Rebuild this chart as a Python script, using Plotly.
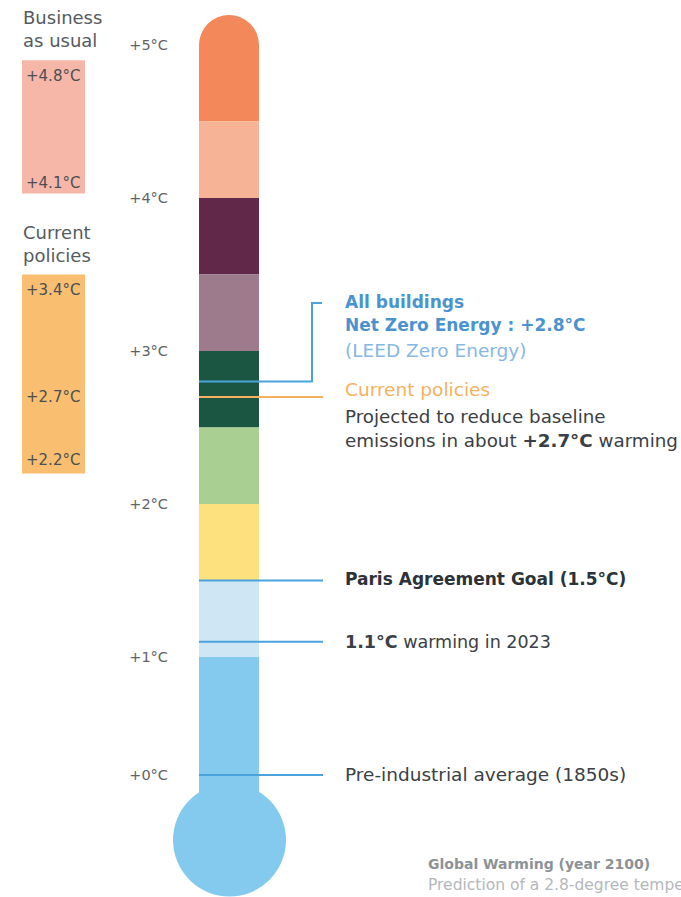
import plotly.graph_objects as go

# ---------------------------------------------------------------------------
# Data (°C of warming above pre-industrial)
# ---------------------------------------------------------------------------
band_bottom = [4.5, 4.0, 3.5, 3.0, 2.5, 2.0, 1.5, 1.0]
band_top = [5.0, 4.5, 4.0, 3.5, 3.0, 2.5, 2.0, 1.5]
band_colors = ["#F3895A", "#F7B396", "#61284A", "#9E7A8D",
               "#1A5641", "#AACF92", "#FDE17F", "#CFE7F5"]
base_band = [0.0, 1.0]          # bottom of the stem, down into the bulb
base_color = "#84CAEE"

upper_ticks = [2, 3, 4, 5]
lower_ticks = [0, 1]

net_zero = 2.8
current_policies = 2.7
paris_goal = 1.5
warming_2023 = 1.1
pre_industrial = 0.0

bau_labels = [4.8, 4.1]
bau_span = [4.03, 4.9]
cp_labels = [3.4, 2.7, 2.2]
cp_span = [2.2, 3.5]

# ---------------------------------------------------------------------------
# Layout geometry (pixels)
# ---------------------------------------------------------------------------
W, H = 681, 897
ONE_PX = 657          # vertical pixel of +1°C
PX_UP = 153           # pixels per °C above +1°C
ZERO_PX = 775         # vertical pixel of +0°C
PX_LOW = ZERO_PX - ONE_PX   # pixels per °C between 0 and 1
STEM_X0, STEM_X1 = 199, 259
CAP_R = (STEM_X1 - STEM_X0) / 2
BULB_CX, BULB_R, BULB_DY = 229.5, 56.5, 65   # bulb centre 65 px below 0°C
LINE_X0, LINE_X1 = 199, 323
TEXT_X = 343

split = (H - ONE_PX) / H
upper_range = [1, 1 + ONE_PX / PX_UP]
lower_range = [-(H - ZERO_PX) / PX_LOW, 1]


def py(px):
    """paper y for a pixel row"""
    return 1 - px / H


FONT = "DejaVu Sans"
BLUE = "#4AA3DC"
ORANGE = "#F6B15E"
DARK = "#3A4045"

fig = go.Figure()

# ---------------------------------------------------------------------------
# Thermometer
# ---------------------------------------------------------------------------
shapes = []
for lo, hi, col in zip(band_bottom, band_top, band_colors):
    shapes.append(dict(type="rect", xref="x", yref="y", x0=STEM_X0, x1=STEM_X1,
                       y0=lo, y1=hi, fillcolor=col, line_width=0, layer="below"))
# rounded top cap
shapes.append(dict(type="circle", xref="x", yref="y", ysizemode="pixel",
                   yanchor=band_top[0], y0=-CAP_R, y1=CAP_R,
                   x0=STEM_X0, x1=STEM_X1, fillcolor=band_colors[0],
                   line_width=0, layer="below"))
# base of stem + bulb
shapes.append(dict(type="rect", xref="x", yref="y2", x0=STEM_X0, x1=STEM_X1,
                   y0=base_band[0] - BULB_DY / PX_LOW, y1=base_band[1],
                   fillcolor=base_color, line_width=0, layer="below"))
shapes.append(dict(type="circle", xref="x", yref="y2", ysizemode="pixel",
                   yanchor=base_band[0], y0=-BULB_DY - BULB_R, y1=-BULB_DY + BULB_R,
                   x0=BULB_CX - BULB_R, x1=BULB_CX + BULB_R,
                   fillcolor=base_color, line_width=0, layer="below"))

# scenario boxes on the left
shapes.append(dict(type="rect", xref="x", yref="y", x0=22, x1=85,
                   y0=bau_span[0], y1=bau_span[1], fillcolor="#F6B7A8",
                   line_width=0, layer="below"))
shapes.append(dict(type="rect", xref="x", yref="y", x0=22, x1=85,
                   y0=cp_span[0], y1=cp_span[1], fillcolor="#F9BE70",
                   line_width=0, layer="below"))

# ---------------------------------------------------------------------------
# Reference lines
# ---------------------------------------------------------------------------
bracket_top = 1 + (ONE_PX - 303) / PX_UP
fig.add_trace(go.Scatter(x=[LINE_X0, 312, 312, LINE_X1 - 1],
                         y=[net_zero, net_zero, bracket_top, bracket_top],
                         mode="lines", line=dict(color=BLUE, width=2),
                         xaxis="x", yaxis="y", hoverinfo="skip", showlegend=False))
for val, col in [(current_policies, ORANGE), (paris_goal, BLUE), (warming_2023, BLUE)]:
    fig.add_trace(go.Scatter(x=[LINE_X0, LINE_X1], y=[val, val], mode="lines",
                             line=dict(color=col, width=2), xaxis="x", yaxis="y",
                             hoverinfo="skip", showlegend=False))
fig.add_trace(go.Scatter(x=[LINE_X0, LINE_X1], y=[pre_industrial, pre_industrial],
                         mode="lines", line=dict(color=BLUE, width=2),
                         xaxis="x", yaxis="y2", hoverinfo="skip", showlegend=False))

# ---------------------------------------------------------------------------
# Text
# ---------------------------------------------------------------------------
ann = []


def note(text, x, y, size, color, yref="paper", xanchor="left", **kw):
    ann.append(dict(text=text, x=x, y=y, xref="x", yref=yref, xanchor=xanchor,
                    yanchor="middle", align="left", showarrow=False,
                    font=dict(family=FONT, size=size, color=color), **kw))


note("Business<br>as usual", 21, py(29.5), 18, "#555B5F")
note("Current<br>policies", 21, py(244.5), 18, "#555B5F")
for v in bau_labels:
    note(f"+{v}°C", 52.5, v, 15, "#4A4F53", yref="y", xanchor="center")
for v in cp_labels:
    shift = 13 if v == cp_span[0] else 0
    note(f"+{v}°C", 52.5, v, 15, "#4A4F53", yref="y", xanchor="center", yshift=shift)

note("<b>All buildings</b>", TEXT_X, py(302), 17, "#4B93CF")
note(f"<b>Net Zero Energy : +{net_zero}°C</b>", TEXT_X, py(325), 17, "#4B93CF")
note("(LEED Zero Energy)", TEXT_X, py(350), 18.5, "#86B8E2")
note("Current policies", TEXT_X, py(390), 18.5, ORANGE)
note(f"Projected to reduce baseline<br>emissions in about <b>+{current_policies}°C</b> warming",
     TEXT_X, py(428.5), 18.3, DARK)
note(f"<b>Paris Agreement Goal ({paris_goal}°C)</b>", TEXT_X, py(579), 17, "#2B3338")
note(f"<b>{warming_2023}°C</b> warming in 2023", TEXT_X, py(642), 17.5, DARK)
note("Pre-industrial average (1850s)", TEXT_X, py(774), 18.5, DARK)
note("<b>Global Warming (year 2100)</b>", 426, py(864), 14, "#8C9296")
note("Prediction of a 2.8-degree temperature rise", 426, py(885), 15.5, "#B4B8BC")

# ---------------------------------------------------------------------------
# Axes
# ---------------------------------------------------------------------------
axis_common = dict(anchor="free", position=168 / W, side="left", ticks="",
                   showline=False, showgrid=False, zeroline=False, fixedrange=True,
                   automargin=False,
                   tickfont=dict(family=FONT, size=14.5, color="#5F6468"))

fig.update_layout(
    template="none",
    width=W, height=H, autosize=False,
    margin=dict(l=0, r=0, t=0, b=0, pad=0, autoexpand=False),
    paper_bgcolor="white", plot_bgcolor="white",
    xaxis=dict(range=[0, W], domain=[0, 1], visible=False, fixedrange=True,
               automargin=False),
    yaxis=dict(domain=[split, 1], range=upper_range,
               tickvals=upper_ticks, ticktext=[f"+{t}°C" for t in upper_ticks],
               **axis_common),
    yaxis2=dict(domain=[0, split], range=lower_range,
                tickvals=lower_ticks, ticktext=[f"+{t}°C" for t in lower_ticks],
                **axis_common),
    shapes=shapes,
    annotations=ann,
    showlegend=False,
)

fig.write_html("out.html")
